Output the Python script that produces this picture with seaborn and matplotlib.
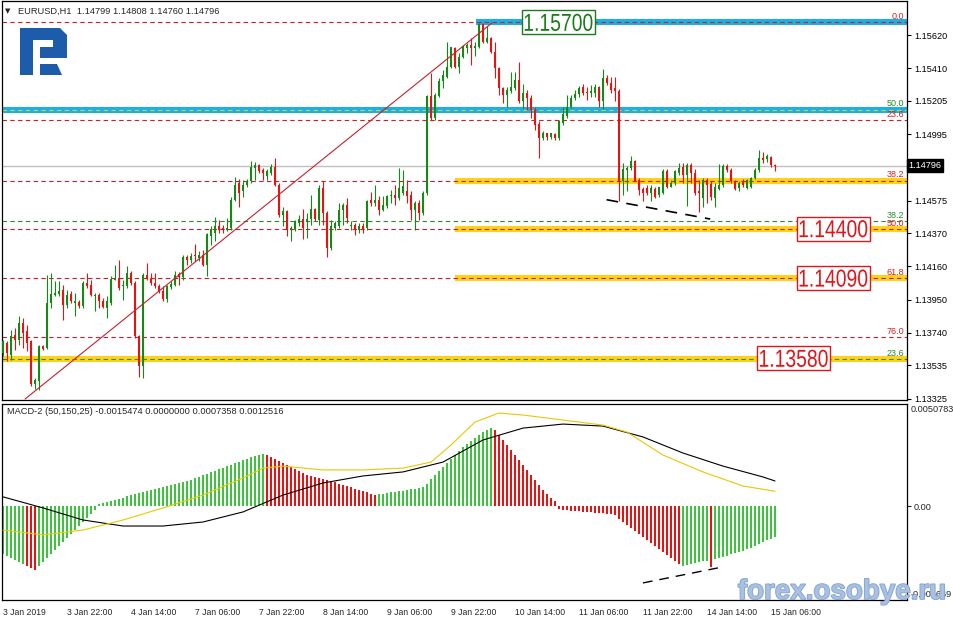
import numpy as np
import pandas as pd
import matplotlib
matplotlib.use('Agg')
import matplotlib.pyplot as plt
import matplotlib.transforms as mtransforms
import matplotlib.patheffects as pe
from matplotlib.patches import Polygon, PathPatch, Rectangle
from matplotlib.textpath import TextPath
from matplotlib.font_manager import FontProperties
import seaborn as sns

sns.set_style('white')
plt.rcParams['font.family'] = ['Liberation Sans', 'DejaVu Sans']

# EURUSD H1 candles, bar index 0 = 3 Jan 06:00
opens = [1.13614, 1.13677, 1.13604, 1.13730, 1.13698, 1.13803, 1.13751, 1.13688, 1.13415, 1.13436,
         1.13660, 1.13646, 1.13929, 1.13982, 1.13988, 1.14013, 1.13919, 1.13988, 1.13929, 1.13935,
         1.13908, 1.14055, 1.14045, 1.13971, 1.13982, 1.13944, 1.13898, 1.13929, 1.14076, 1.14087,
         1.14034, 1.14034, 1.14118, 1.14055, 1.13719, 1.13534, 1.14108, 1.14080, 1.14055, 1.14038,
         1.14003, 1.13954, 1.14030, 1.14045, 1.14112, 1.14093, 1.14219, 1.14198, 1.14234, 1.14213,
         1.14234, 1.14171, 1.14349, 1.14370, 1.14416, 1.14402, 1.14391, 1.14402, 1.14580, 1.14689,
         1.14633, 1.14675, 1.14696, 1.14780, 1.14801, 1.14769, 1.14731, 1.14752, 1.14790, 1.14675,
         1.14486, 1.14507, 1.14387, 1.14395, 1.14437, 1.14458, 1.14444, 1.14458, 1.14521, 1.14454,
         1.14654, 1.14496, 1.14276, 1.14403, 1.14413, 1.14518, 1.14550, 1.14413, 1.14424, 1.14392,
         1.14413, 1.14403, 1.14581, 1.14560, 1.14577, 1.14518, 1.14539, 1.14602, 1.14613, 1.14592,
         1.14623, 1.14634, 1.14613, 1.14518, 1.14560, 1.14497, 1.14623, 1.15236, 1.15096, 1.15236,
         1.15327, 1.15358, 1.15421, 1.15537, 1.15421, 1.15484, 1.15537, 1.15558, 1.15537, 1.15543,
         1.15690, 1.15578, 1.15599, 1.15516, 1.15411, 1.15285, 1.15243, 1.15264, 1.15285, 1.15337,
         1.15201, 1.15253, 1.15222, 1.15148, 1.15060, 1.14970, 1.15001, 1.14976, 1.14997, 1.14970,
         1.15064, 1.15110, 1.15169, 1.15222, 1.15249, 1.15291, 1.15257, 1.15253, 1.15257, 1.15291,
         1.15201, 1.15348, 1.15316, 1.15285, 1.15270, 1.14702, 1.14769, 1.14780, 1.14826, 1.14706,
         1.14647, 1.14654, 1.14622, 1.14651, 1.14612, 1.14622, 1.14765, 1.14664, 1.14685, 1.14748,
         1.14786, 1.14737, 1.14800, 1.14748, 1.14633, 1.14591, 1.14706, 1.14679, 1.14591, 1.14647,
         1.14674, 1.14794, 1.14769, 1.14702, 1.14654, 1.14696, 1.14654, 1.14664, 1.14716, 1.14769,
         1.14842, 1.14836, 1.14853, 1.14799]
highs = [1.13698, 1.13688, 1.13761, 1.13772, 1.13845, 1.13835, 1.13793, 1.13698, 1.13457, 1.13667,
         1.13667, 1.14108, 1.14118, 1.14066, 1.14066, 1.14045, 1.14013, 1.14003, 1.13992, 1.13950,
         1.14066, 1.14118, 1.14076, 1.13992, 1.13992, 1.13960, 1.13971, 1.14097, 1.14171, 1.14202,
         1.14076, 1.14160, 1.14129, 1.14066, 1.13730, 1.14118, 1.14181, 1.14118, 1.14118, 1.14051,
         1.14034, 1.14045, 1.14066, 1.14129, 1.14122, 1.14234, 1.14234, 1.14244, 1.14303, 1.14255,
         1.14265, 1.14370, 1.14416, 1.14471, 1.14454, 1.14423, 1.14465, 1.14597, 1.14723, 1.14710,
         1.14706, 1.14710, 1.14826, 1.14822, 1.14807, 1.14780, 1.14773, 1.14807, 1.14843, 1.14689,
         1.14538, 1.14517, 1.14412, 1.14454, 1.14486, 1.14521, 1.14500, 1.14612, 1.14528, 1.14675,
         1.14696, 1.14507, 1.14451, 1.14445, 1.14560, 1.14560, 1.14592, 1.14445, 1.14434, 1.14434,
         1.14434, 1.14581, 1.14627, 1.14676, 1.14602, 1.14602, 1.14613, 1.14644, 1.14676, 1.14781,
         1.14770, 1.14707, 1.14634, 1.14571, 1.14581, 1.14634, 1.15243, 1.15379, 1.15253, 1.15348,
         1.15400, 1.15574, 1.15547, 1.15547, 1.15505, 1.15558, 1.15568, 1.15599, 1.15578, 1.15698,
         1.15698, 1.15677, 1.15610, 1.15578, 1.15421, 1.15295, 1.15291, 1.15390, 1.15390, 1.15453,
         1.15312, 1.15274, 1.15243, 1.15169, 1.15075, 1.15012, 1.15005, 1.15005, 1.15005, 1.15085,
         1.15169, 1.15243, 1.15243, 1.15274, 1.15299, 1.15312, 1.15291, 1.15306, 1.15312, 1.15299,
         1.15404, 1.15369, 1.15358, 1.15358, 1.15278, 1.14811, 1.14794, 1.14857, 1.14832, 1.14716,
         1.14664, 1.14674, 1.14674, 1.14664, 1.14664, 1.14773, 1.14773, 1.14706, 1.14769, 1.14811,
         1.14811, 1.14811, 1.14811, 1.14773, 1.14706, 1.14716, 1.14716, 1.14696, 1.14685, 1.14807,
         1.14805, 1.14805, 1.14780, 1.14706, 1.14702, 1.14710, 1.14710, 1.14727, 1.14780, 1.14895,
         1.14884, 1.14868, 1.14857, 1.14808]
lows = [1.13593, 1.13562, 1.13572, 1.13635, 1.13667, 1.13646, 1.13625, 1.13404, 1.13387, 1.13379,
        1.13631, 1.13639, 1.13898, 1.13971, 1.13971, 1.13824, 1.13898, 1.13929, 1.13845, 1.13898,
        1.13898, 1.14024, 1.13971, 1.13877, 1.13898, 1.13898, 1.13835, 1.13919, 1.14072, 1.14013,
        1.13950, 1.14024, 1.14045, 1.13709, 1.13463, 1.13457, 1.14076, 1.14045, 1.14024, 1.13992,
        1.13940, 1.13935, 1.14017, 1.14034, 1.14045, 1.14076, 1.14171, 1.14181, 1.14192, 1.14192,
        1.14160, 1.14097, 1.14297, 1.14318, 1.14370, 1.14370, 1.14381, 1.14391, 1.14570, 1.14538,
        1.14601, 1.14664, 1.14689, 1.14706, 1.14752, 1.14706, 1.14706, 1.14738, 1.14668, 1.14475,
        1.14416, 1.14349, 1.14318, 1.14381, 1.14412, 1.14332, 1.14339, 1.14423, 1.14444, 1.14423,
        1.14423, 1.14219, 1.14266, 1.14392, 1.14403, 1.14424, 1.14434, 1.14392, 1.14361, 1.14371,
        1.14371, 1.14392, 1.14539, 1.14539, 1.14487, 1.14508, 1.14529, 1.14560, 1.14550, 1.14581,
        1.14613, 1.14560, 1.14455, 1.14392, 1.14455, 1.14487, 1.14613, 1.15085, 1.15085, 1.15228,
        1.15285, 1.15348, 1.15411, 1.15411, 1.15379, 1.15474, 1.15505, 1.15432, 1.15488, 1.15537,
        1.15568, 1.15568, 1.15505, 1.15348, 1.15243, 1.15190, 1.15169, 1.15253, 1.15274, 1.15190,
        1.15159, 1.15148, 1.15096, 1.15022, 1.14844, 1.14959, 1.14959, 1.14963, 1.14959, 1.14959,
        1.15054, 1.15096, 1.15159, 1.15211, 1.15232, 1.15243, 1.15211, 1.15232, 1.15228, 1.15169,
        1.15152, 1.15306, 1.15253, 1.15201, 1.14570, 1.14612, 1.14633, 1.14769, 1.14696, 1.14612,
        1.14576, 1.14612, 1.14570, 1.14591, 1.14601, 1.14619, 1.14654, 1.14660, 1.14674, 1.14737,
        1.14685, 1.14542, 1.14685, 1.14612, 1.14502, 1.14538, 1.14559, 1.14580, 1.14534, 1.14643,
        1.14664, 1.14758, 1.14685, 1.14643, 1.14639, 1.14664, 1.14647, 1.14654, 1.14710, 1.14758,
        1.14811, 1.14821, 1.14786, 1.14760]
closes = [1.13688, 1.13614, 1.13719, 1.13698, 1.13803, 1.13740, 1.13677, 1.13415, 1.13446, 1.13656,
          1.13639, 1.13929, 1.13988, 1.13992, 1.14003, 1.13919, 1.13982, 1.13940, 1.13940, 1.13908,
          1.14055, 1.14034, 1.13982, 1.13982, 1.13940, 1.13904, 1.13940, 1.14080, 1.14087, 1.14024,
          1.14045, 1.14118, 1.14055, 1.13719, 1.13530, 1.14108, 1.14080, 1.14055, 1.14034, 1.14003,
          1.13954, 1.14034, 1.14051, 1.14108, 1.14093, 1.14219, 1.14198, 1.14227, 1.14223, 1.14234,
          1.14171, 1.14366, 1.14395, 1.14416, 1.14387, 1.14387, 1.14404, 1.14580, 1.14675, 1.14626,
          1.14675, 1.14696, 1.14790, 1.14801, 1.14765, 1.14748, 1.14763, 1.14790, 1.14675, 1.14486,
          1.14507, 1.14391, 1.14402, 1.14444, 1.14458, 1.14402, 1.14458, 1.14521, 1.14458, 1.14654,
          1.14496, 1.14276, 1.14417, 1.14434, 1.14518, 1.14550, 1.14466, 1.14424, 1.14392, 1.14417,
          1.14392, 1.14571, 1.14560, 1.14581, 1.14518, 1.14550, 1.14602, 1.14613, 1.14592, 1.14655,
          1.14665, 1.14602, 1.14518, 1.14560, 1.14497, 1.14623, 1.15236, 1.15096, 1.15243, 1.15327,
          1.15369, 1.15421, 1.15543, 1.15421, 1.15484, 1.15543, 1.15558, 1.15537, 1.15551, 1.15690,
          1.15578, 1.15599, 1.15516, 1.15411, 1.15285, 1.15243, 1.15274, 1.15291, 1.15337, 1.15201,
          1.15253, 1.15222, 1.15148, 1.15054, 1.14970, 1.15001, 1.14976, 1.15001, 1.14970, 1.15079,
          1.15123, 1.15169, 1.15222, 1.15249, 1.15285, 1.15253, 1.15253, 1.15264, 1.15291, 1.15201,
          1.15348, 1.15316, 1.15274, 1.15270, 1.14702, 1.14773, 1.14784, 1.14826, 1.14702, 1.14643,
          1.14626, 1.14622, 1.14654, 1.14601, 1.14660, 1.14765, 1.14664, 1.14689, 1.14763, 1.14780,
          1.14737, 1.14800, 1.14748, 1.14622, 1.14622, 1.14706, 1.14674, 1.14601, 1.14664, 1.14674,
          1.14794, 1.14769, 1.14696, 1.14647, 1.14689, 1.14674, 1.14706, 1.14721, 1.14769, 1.14842,
          1.14832, 1.14857, 1.14800, 1.14796]

# MACD-2 (50,150,25) histogram, one value per bar
macd_hist = [-0.00239, -0.00249, -0.00258, -0.00268, -0.00278, -0.00288, -0.00298, -0.00308, -0.00318,
             -0.00298, -0.00278, -0.00258, -0.00239, -0.00219, -0.00199, -0.00179, -0.00159, -0.00139,
             -0.00119, -0.00099, -0.00080, -0.00060, -0.00040, -0.00020,
             0.00010, 0.00015, 0.00020, 0.00025, 0.00030, 0.00035, 0.00040,
             0.00050, 0.00055, 0.00060, 0.00065, 0.00070, 0.00075, 0.00080, 0.00085, 0.00089, 0.00094,
             0.00099, 0.00104, 0.00109, 0.00114, 0.00119,
             0.00124, 0.00132, 0.00139, 0.00147, 0.00154, 0.00162, 0.00169, 0.00176, 0.00184, 0.00191,
             0.00199, 0.00206, 0.00214, 0.00221, 0.00229, 0.00236, 0.00244, 0.00249, 0.00253, 0.00258,
             0.00253, 0.00244, 0.00234, 0.00224, 0.00214, 0.00204, 0.00194, 0.00184, 0.00174, 0.00164,
             0.00154, 0.00149, 0.00144, 0.00139, 0.00134, 0.00129,
             0.00124, 0.00119, 0.00109, 0.00104, 0.00099, 0.00094, 0.00084, 0.00080, 0.00075, 0.00070,
             0.00060, 0.00055,
             0.00060, 0.00062, 0.00065, 0.00070, 0.00072, 0.00075, 0.00077, 0.00080, 0.00084, 0.00087,
             0.00089, 0.00094,
             0.00109, 0.00134, 0.00154, 0.00174, 0.00194, 0.00214, 0.00234, 0.00253, 0.00273, 0.00293,
             0.00308, 0.00323, 0.00338, 0.00353, 0.00368, 0.00378, 0.00388,
             0.00378, 0.00353, 0.00328, 0.00303, 0.00278, 0.00253, 0.00229, 0.00204, 0.00179, 0.00154,
             0.00129, 0.00104, 0.00080, 0.00060, 0.00040, 0.00025,
             -0.00015, -0.00020, -0.00020, -0.00025, -0.00025, -0.00025, -0.00030, -0.00030, -0.00030,
             -0.00035, -0.00035, -0.00035, -0.00040, -0.00040, -0.00045,
             -0.00065, -0.00080, -0.00095, -0.00110, -0.00125, -0.00140, -0.00155, -0.00170, -0.00185,
             -0.00200, -0.00215, -0.00230, -0.00245, -0.00260, -0.00275, -0.00290,
             -0.00298, -0.00293, -0.00288, -0.00283, -0.00278, -0.00273, -0.00273, -0.00303, -0.00263,
             -0.00258, -0.00253, -0.00249, -0.00239, -0.00234, -0.00229, -0.00224, -0.00214, -0.00209,
             -0.00199, -0.00189, -0.00179, -0.00169, -0.00164, -0.00155]
# colour runs of the histogram as shown: (green?, number of bars)
hist_runs = [(True, 6), (False, 3), (True, 57), (False, 28), (True, 29), (False, 47), (True, 7),
             (False, 1), (True, 16)]

black_x = [0, 10, 20, 30, 40, 50, 60, 70, 80, 90, 100, 110, 120, 130, 140, 150, 160, 170, 180, 190, 193]
black_y = [0.00046, -0.00009, -0.00069, -0.00099, -0.00099, -0.00079, -0.00029, 0.00055, 0.00115, 0.00150,
           0.00170, 0.00219, 0.00329, 0.00388, 0.00408, 0.00398, 0.00344, 0.00264, 0.00199, 0.00145, 0.00125]
yellow_x = [0, 10, 20, 30, 40, 50, 60, 65, 70, 80, 90, 100, 107, 112, 118, 124, 130, 140, 150, 156, 165,
            175, 185, 193]
yellow_y = [-0.00119, -0.00143, -0.00119, -0.00069, -0.00009, 0.00055, 0.00140, 0.00189, 0.00199, 0.00180,
            0.00180, 0.00189, 0.00219, 0.00304, 0.00418, 0.00463, 0.00453, 0.00428, 0.00403, 0.00368,
            0.00254, 0.00170, 0.00100, 0.00074]

time_labels = ['3 Jan 2019', '3 Jan 22:00', '4 Jan 14:00', '7 Jan 06:00', '7 Jan 22:00', '8 Jan 14:00',
               '9 Jan 06:00', '9 Jan 22:00', '10 Jan 14:00', '11 Jan 06:00', '11 Jan 22:00',
               '14 Jan 14:00', '15 Jan 06:00']
time_label_bars = [0, 16, 32, 48, 64, 80, 96, 112, 128, 144, 160, 176, 192]
price_ticks = [1.15620, 1.15410, 1.15205, 1.14995, 1.14575, 1.14370, 1.14160, 1.13950, 1.13740,
               1.13535, 1.13325]
last_price = 1.14796

# fibonacci levels (value, label)
fib_red = [(1.15700, '0.0'), (1.15082, '23.6'), (1.14702, '38.2'), (1.14395, '50.0'),
           (1.14085, '61.8'), (1.13716, '76.0')]
fib_green = [(1.15150, '50.0'), (1.14446, '38.2'), (1.13578, '23.6')]
# horizontal zones (level, first bar, colour)
zones = [(1.15700, 118.3, '#1eaee0'), (1.15150, -1, '#1eaee0'), (1.14702, 113, '#ffd21a'),
         (1.14395, 113, '#ffd21a'), (1.14085, 113, '#ffd21a'), (1.13578, -1, '#ffd21a')]
# price boxes (text, centre bar, level, colour)
price_boxes = [('1.15700', 138.9, 1.15700, '#1d7a1d'), ('1.14400', 207.6, 1.14398, '#e0161a'),
               ('1.14090', 207.6, 1.14086, '#e0161a'), ('1.13580', 197.7, 1.13580, '#e0161a')]
trend_x = [5.5, 122.2]
trend_y = [1.13323, 1.15696]
div_price_x = [150.9, 176.8]
div_price_y = [1.14581, 1.14459]
div_macd_x = [160, 179.8]
div_macd_y = [-0.00382, -0.00303]

W, H = 954, 622
fig = plt.figure(figsize=(W / 100, H / 100), dpi=100)
fig.patch.set_facecolor('white')
ax = fig.add_axes([2 / W, 1 - 400 / H, 905 / W, 399 / H])
ax2 = fig.add_axes([2 / W, 1 - 600 / H, 905 / W, 196 / H])

GREEN = '#138a13'
RED = '#ec1111'
XLIM = (-0.25, 226)

df = pd.DataFrame({'o': opens, 'h': highs, 'l': lows, 'c': closes})
df['x'] = np.arange(len(df))
up = df['c'] >= df['o']
cols = np.where(up, GREEN, RED)

# zones and levels
for lvl, x0, col in zones:
    ax.hlines(lvl, max(x0, XLIM[0]), XLIM[1], colors=col, lw=4.4, zorder=1)
for lvl, lab in fib_red:
    ax.axhline(lvl, color='#c8202a', lw=0.8, ls=(0, (4, 3)), zorder=2)
    ax.annotate(lab, xy=(225.4, lvl), xytext=(0, 0.8), textcoords='offset points',
                ha='right', va='bottom', fontsize=6.5, color='#d42020', zorder=6)
for lvl, lab in fib_green:
    col = '#c8d83a' if lab == '50.0' else '#2a8a2a'
    ax.axhline(lvl, color=col, lw=0.8, ls=(0, (4, 3)), zorder=2)
    ax.annotate(lab, xy=(225.4, lvl), xytext=(0, 0.8), textcoords='offset points',
                ha='right', va='bottom', fontsize=6.5, color='#2a8a2a', zorder=6)
ax.axhline(last_price, color='#c0c0c0', lw=1.0, zorder=1.5)

# candles
ax.vlines(df['x'], df['l'], df['h'], colors=cols, lw=0.8, zorder=3)
body_lo = np.minimum(df['o'], df['c'])
body_h = np.maximum(np.abs(df['c'] - df['o']), 0.00007)
ax.bar(df['x'], body_h, bottom=body_lo, width=0.72, color=cols, lw=0, zorder=3.5)

ax.plot(trend_x, trend_y, color='#c8202a', lw=0.8, zorder=4)
ax.plot(div_price_x, div_price_y, color='black', lw=1.2, ls=(0, (7, 5)), zorder=4)

ax.set_xlim(*XLIM)
ax.set_ylim(1.13317, 1.15835)
ax.set_xticks([])
ax.yaxis.tick_right()
ax.set_yticks(price_ticks)
ax.set_yticklabels([f'{v:.5f}' for v in price_ticks])
ax.tick_params(axis='y', length=3, width=0.8, pad=2, labelsize=6.6, colors='black', direction='out')
blend = mtransforms.blended_transform_factory(ax.transAxes, ax.transData)
ax.text(1.0015, last_price, '1.14796', transform=blend, ha='left', va='center', fontsize=6.6,
        color='white', bbox=dict(boxstyle='square,pad=0.2', fc='black', ec='black'), zorder=8,
        clip_on=False)

# price boxes: narrow (horizontally squeezed) text in a framed white box
box_font = FontProperties(family='Liberation Sans')
for txt, bx, lvl, col in price_boxes:
    cx, cy = ax.transData.transform((bx, lvl))
    tp = TextPath((0, 0), txt, size=24.5, prop=box_font)
    ext = tp.get_extents()
    tr = (mtransforms.Affine2D()
          .translate(-(ext.x0 + ext.x1) / 2, -(ext.y0 + ext.y1) / 2)
          .scale(0.79, 1.0)
          .translate(cx, cy))
    fig.patches.append(Rectangle((cx - 36.5, cy - 12.0), 73, 24, transform=mtransforms.IdentityTransform(),
                                 fc='white', ec=col, lw=1.0, zorder=5))
    fig.patches.append(PathPatch(tp, transform=tr, fc=col, ec='none', zorder=6))

# MACD panel
hcols = []
for is_up, n in hist_runs:
    hcols += [('#3cc43c' if is_up else RED)] * n
ax2.bar(np.arange(len(macd_hist)), macd_hist, width=0.72, color=hcols, lw=0, zorder=2)
sns.lineplot(x=black_x, y=black_y, ax=ax2, color='black', lw=0.8, zorder=3)
sns.lineplot(x=yellow_x, y=yellow_y, ax=ax2, color='#e8c800', lw=0.8, zorder=3)
ax2.plot(div_macd_x, div_macd_y, color='black', lw=1.0, ls=(0, (7, 5)), zorder=4)
ax2.set_xlim(*XLIM)
ax2.set_ylim(-0.004669, 0.0050783)
ax2.yaxis.tick_right()
ax2.set_yticks([0.0])
ax2.set_yticklabels(['0.00'])
ax2.tick_params(axis='y', length=3, width=0.8, pad=2, labelsize=6.6, direction='out')
ax2.text(1.004, 0.995, '0.0050783', transform=ax2.transAxes, ha='left', va='top', fontsize=6.6)
ax2.text(1.004, 0.005, '-0.004669', transform=ax2.transAxes, ha='left', va='bottom', fontsize=6.6)
ax2.set_xticks(time_label_bars)
ax2.set_xticklabels(time_labels)
ax2.tick_params(axis='x', length=4, width=0.8, pad=2, labelsize=6.2, direction='out')
for lab in ax2.get_xticklabels():
    lab.set_horizontalalignment('left')
ax2.set_xlabel('')
ax2.set_ylabel('')

for a in (ax, ax2):
    for s in a.spines.values():
        s.set_color('black')
        s.set_linewidth(0.9)
    a.set_facecolor('white')

# header texts
fig.text(5 / W, 1 - 11 / H, '\u25bc', fontsize=5, va='center', ha='left', family=['DejaVu Sans'])
fig.text(18 / W, 1 - 11 / H, 'EURUSD,H1  1.14799 1.14808 1.14760 1.14796', fontsize=6.7,
         va='center', ha='left')
fig.text(7 / W, 1 - 411 / H, 'MACD-2 (50,150,25) -0.0015474 0.0000000 0.0007358 0.0012516',
         fontsize=6.7, va='center', ha='left')

# logo
def px(x, y):
    return (x / W, 1 - y / H)

logo_main = [px(20, 75), px(20, 28), px(60, 28), px(67, 35), px(67, 58), px(40, 58), px(40, 47),
             px(53, 47), px(53, 40), px(33, 40), px(33, 75)]
logo_foot = [px(40, 64), px(57, 64), px(62, 75), px(40, 75)]
for pts in (logo_main, logo_foot):
    fig.patches.append(Polygon(pts, closed=True, transform=fig.transFigure, fc='#1d5cab', ec='none'))

# watermark
fig.text(842 / W, 1 - 592 / H, 'forex.osobye.ru', fontsize=20, fontweight='bold', color='#a9c2e3',
         ha='center', va='center', alpha=0.9,
         path_effects=[pe.withStroke(linewidth=1.2, foreground='#7c9cca')])

fig.savefig('out.png', dpi=100)
